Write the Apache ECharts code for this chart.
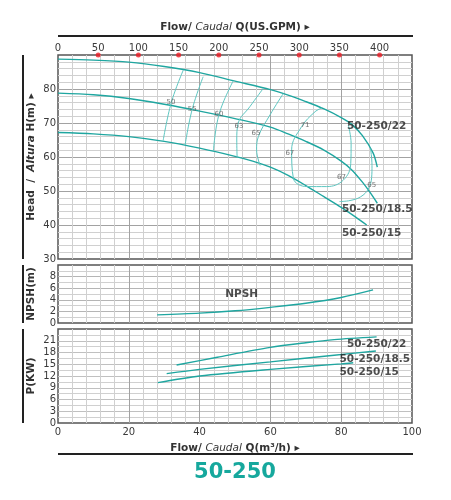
<!DOCTYPE html>
<html><head><meta charset="utf-8">
<script src="https://cdn.jsdelivr.net/npm/echarts@6/dist/echarts.min.js"></script>
<style>html,body{margin:0;padding:0;background:#fff}#c{width:451px;height:500px}</style>
</head><body><div id="c"></div>
<script>
// ---- data ----
const gpmTicks = [50, 100, 150, 200, 250, 300, 350, 400];
const GPM_PER_M3H = 4.4029;

const q22 = [0, 10, 20, 30, 40, 50, 60, 65, 70, 75, 80, 83, 86, 89, 90.2];
const h22 = [88.8, 88.5, 87.9, 86.6, 84.8, 82.3, 79.8, 78.2, 76.3, 74.2, 71.6, 69.6, 66.3, 61.2, 57];
const q185 = [0, 10, 20, 30, 40, 50, 60, 65, 70, 75, 80, 83, 86, 88, 90.2];
const h185 = [78.8, 78.3, 77.2, 75.5, 73.5, 71.3, 68.8, 66.8, 64.6, 62.1, 58.8, 56.2, 52.6, 49.8, 46.4];
const q15 = [0, 10, 20, 30, 40, 50, 55, 60, 65, 70, 75, 80, 84, 87.2];
const h15 = [67.2, 66.8, 66, 64.6, 62.6, 60.2, 58.8, 57.0, 54.6, 51.6, 48.4, 45.2, 42.4, 40];

const eff50 = [[35.4, 85.6], [32, 76], [29.7, 64.8]];
const eff55 = [[41, 83.6], [37.9, 74], [35.9, 63.5]];
const eff60 = [[49.5, 82.4], [45.5, 72.6], [43.9, 61.8]];
const eff63 = [[58, 80.2], [54.2, 74.8], [50.9, 69.9], [50.5, 65], [50.6, 59.8]];
const eff65a = [[63.6, 78.6], [59.9, 72.4], [56.6, 66], [56.1, 62.1], [57.1, 57.5]];
const eff67 = [[74.5, 74.4], [72.6, 73.3], [68.8, 68.9], [66, 62.1], [66.5, 53.7], [70.3, 51.3], [75.9, 51.3], [80.6, 53.2], [82.7, 58.1], [82.8, 64], [82, 69.4]];
const eff65b = [[88.3, 62.5], [88.7, 57.5], [88.6, 54], [87.6, 50.5], [85.5, 48.3], [82.5, 47.2], [79.5, 46.9]];

const effLabelText = ['50', '55', '60', '63', '65', '67', '71', '67', '65'];
const effLabelQ = [31.9, 37.9, 45.5, 51.1, 55.9, 65.5, 69.8, 80.1, 88.6];
const effLabelH = [76.0, 74.0, 72.6, 69.2, 67.1, 61.1, 69.5, 54.2, 51.8];

const npshQ = [28, 40, 50, 60, 70, 80, 89];
const npshV = [1.4, 1.7, 2.1, 2.7, 3.4, 4.4, 5.7];

const pq22 = [33.5, 45, 60, 70, 78, 90];
const p22 = [14.8, 16.8, 19.3, 20.5, 21.3, 22.0];
const pq185 = [30.7, 40, 60, 78, 89.8];
const p185 = [12.6, 13.7, 15.6, 17.3, 18.4];
const pq15 = [28.2, 40, 60, 80, 83.4];
const p15 = [10.3, 12.0, 13.7, 15.1, 15.4];

const models = ['50-250/22', '50-250/18.5', '50-250/15'];
const headLabelQ = [90, 90.2, 88.6];
const headLabelH = [68.9, 44.6, 37.7];
const powerLabelQ = [90, 89.5, 87.9];
const powerLabelP = [20.1, 16.4, 13.0];
const npshLabel = { text: 'NPSH', q: 51.9, v: 5.0 };

// ---- styles ----
const FONT = 'DejaVu Sans';
const TEAL = '#1fa6a0';
const EFF = '#5ec6c1';
const MAJOR = '#a2a2a2';
const MINOR = '#d0d0d0';
const G = { left: 58, right: 39 };
const grids = [
  { top: 55, height: 204 },
  { top: 265, height: 58 },
  { top: 329, height: 94 }
];

const zip = (a, b) => a.map((v, i) => [v, b[i]]);
const richName = {
  b: { fontFamily: FONT, fontWeight: 'bold', fontSize: 10.5, color: '#333' },
  i: { fontFamily: FONT, fontStyle: 'italic', fontSize: 10.5, color: '#333' },
  bi: { fontFamily: FONT, fontStyle: 'italic', fontWeight: 'bold', fontSize: 10.5, color: '#333' }
};
const lbl = { fontFamily: FONT, fontSize: 10, color: '#3a3a3a' };

function flowAxis(gi, showLabels) {
  return {
    type: 'value', gridIndex: gi, position: 'bottom', min: 0, max: 100, interval: 20,
    axisLine: { show: false }, axisTick: { show: false },
    axisLabel: Object.assign({ show: showLabels, margin: 4 }, lbl),
    splitLine: { show: true, showMinLine: false, showMaxLine: false, lineStyle: { color: MAJOR, width: 1 } },
    minorTick: { show: false, splitNumber: 5 },
    minorSplitLine: { show: true, lineStyle: { color: MINOR, width: 1 } },
    name: showLabels ? '{b|Flow/ }{i|Caudal}{b| Q(m³/h) ▸}' : '',
    nameLocation: 'middle', nameGap: 20, nameMoveOverlap: false, nameTextStyle: { rich: richName }
  };
}
function valAxis(gi, min, max, interval, minorN, majorColor, name, gap) {
  return {
    type: 'value', gridIndex: gi, min, max, interval,
    axisLine: { show: false }, axisTick: { show: false },
    axisLabel: Object.assign({ margin: 2, showMaxLabel: false }, lbl),
    splitLine: { show: true, showMinLine: false, showMaxLine: false, lineStyle: { color: majorColor, width: 1 } },
    minorTick: { show: false, splitNumber: minorN },
    minorSplitLine: { show: true, lineStyle: { color: MINOR, width: 1 } },
    name, nameLocation: 'middle', nameRotate: 90, nameGap: gap, nameMoveOverlap: false,
    nameTextStyle: { rich: richName }
  };
}
function line(name, data, xi, yi, color, width, smooth) {
  return { type: 'line', name, data, xAxisIndex: xi, yAxisIndex: yi, showSymbol: false, symbol: 'none',
    smooth: smooth, lineStyle: { color, width }, silent: true, z: 3 };
}
function textPoints(qs, vs, texts, xi, yi, style) {
  return { type: 'scatter', xAxisIndex: xi, yAxisIndex: yi, symbolSize: 0, silent: true, z: 5,
    data: qs.map((q, i) => ({ value: [q, vs[i]], name: texts[i] })),
    label: Object.assign({ show: true, position: 'inside', formatter: p => p.name }, style) };
}

const option = {
  animation: false,
  backgroundColor: '#fff',
  grid: grids.map(g => ({ left: G.left, right: G.right, top: g.top, height: g.height, show: true,
    borderColor: '#555', borderWidth: 1.5, backgroundColor: 'transparent' })),
  xAxis: [
    flowAxis(0, false),
    { type: 'value', gridIndex: 0, position: 'top', min: 0, max: 100 * GPM_PER_M3H, interval: 50,
      axisLine: { show: false }, axisTick: { show: false }, splitLine: { show: false },
      axisLabel: Object.assign({ margin: 2, showMaxLabel: false }, lbl),
      name: '{b|Flow/ }{i|Caudal}{b| Q(US.GPM) ▸}', nameLocation: 'middle', nameGap: 22, nameMoveOverlap: false,
      nameTextStyle: { rich: richName } },
    flowAxis(1, false),
    flowAxis(2, true)
  ],
  yAxis: [
    valAxis(0, 30, 90, 10, 5, MAJOR, '{b|Head  /  }{bi|Altura}{b| H(m) ▸}', 21),
    valAxis(1, 0, 10, 2, 2, '#b5b5b5', '{b|NPSH(m)}', 21),
    valAxis(2, 0, 24, 3, 2, '#c0c0c0', '{b|P(KW)}', 21)
  ],
  graphic: [
    { type: 'line', shape: { x1: 23, y1: 55, x2: 23, y2: 259 }, style: { stroke: '#222', lineWidth: 2 } },
    { type: 'line', shape: { x1: 23, y1: 265, x2: 23, y2: 323 }, style: { stroke: '#222', lineWidth: 2 } },
    { type: 'line', shape: { x1: 23, y1: 329, x2: 23, y2: 423 }, style: { stroke: '#222', lineWidth: 2 } },
    { type: 'line', shape: { x1: 58, y1: 36, x2: 413, y2: 36 }, style: { stroke: '#222', lineWidth: 2 } },
    { type: 'line', shape: { x1: 58, y1: 454, x2: 413, y2: 454 }, style: { stroke: '#222', lineWidth: 2 } },
    { type: 'text', style: { text: '50-250', x: 235, y: 473, textAlign: 'center', textVerticalAlign: 'middle',
      fill: '#16a89d', font: 'bold 21px "DejaVu Sans"' } }
  ],
  series: [
    line('H22', zip(q22, h22), 0, 0, TEAL, 1.4, 0.3),
    line('H18.5', zip(q185, h185), 0, 0, TEAL, 1.4, 0.3),
    line('H15', zip(q15, h15), 0, 0, TEAL, 1.4, 0.3),
    line('e50', eff50, 0, 0, EFF, 1, 0.4),
    line('e55', eff55, 0, 0, EFF, 1, 0.4),
    line('e60', eff60, 0, 0, EFF, 1, 0.4),
    line('e63', eff63, 0, 0, EFF, 1, 0.4),
    line('e65a', eff65a, 0, 0, EFF, 1, 0.4),
    line('e67', eff67, 0, 0, EFF, 1, 0.4),
    line('e65b', eff65b, 0, 0, EFF, 1, 0.4),
    textPoints(effLabelQ, effLabelH, effLabelText, 0, 0, { fontFamily: FONT, fontSize: 7, color: '#555' }),
    textPoints(headLabelQ, headLabelH, models, 0, 0, { fontFamily: FONT, fontSize: 10.5, fontWeight: 'bold', color: '#222' }),
    { type: 'scatter', xAxisIndex: 1, yAxisIndex: 0, symbol: 'circle', symbolSize: 5, clip: false, silent: true, z: 6,
      itemStyle: { color: '#ee1c24' }, data: gpmTicks.map(g => [g, 90]) },
    line('NPSH', zip(npshQ, npshV), 2, 1, TEAL, 1.4, 0.3),
    textPoints([npshLabel.q], [npshLabel.v], [npshLabel.text], 2, 1, { fontFamily: FONT, fontSize: 10.5, fontWeight: 'bold', color: '#222' }),
    line('P22', zip(pq22, p22), 3, 2, TEAL, 1.4, 0.3),
    line('P18.5', zip(pq185, p185), 3, 2, TEAL, 1.4, 0.3),
    line('P15', zip(pq15, p15), 3, 2, TEAL, 1.4, 0.3),
    textPoints(powerLabelQ, powerLabelP, models, 3, 2, { fontFamily: FONT, fontSize: 10.5, fontWeight: 'bold', color: '#222' })
  ]
};
const chart = echarts.init(document.getElementById('c'), null, { renderer: 'canvas' });
chart.setOption(option);
</script></body></html>
